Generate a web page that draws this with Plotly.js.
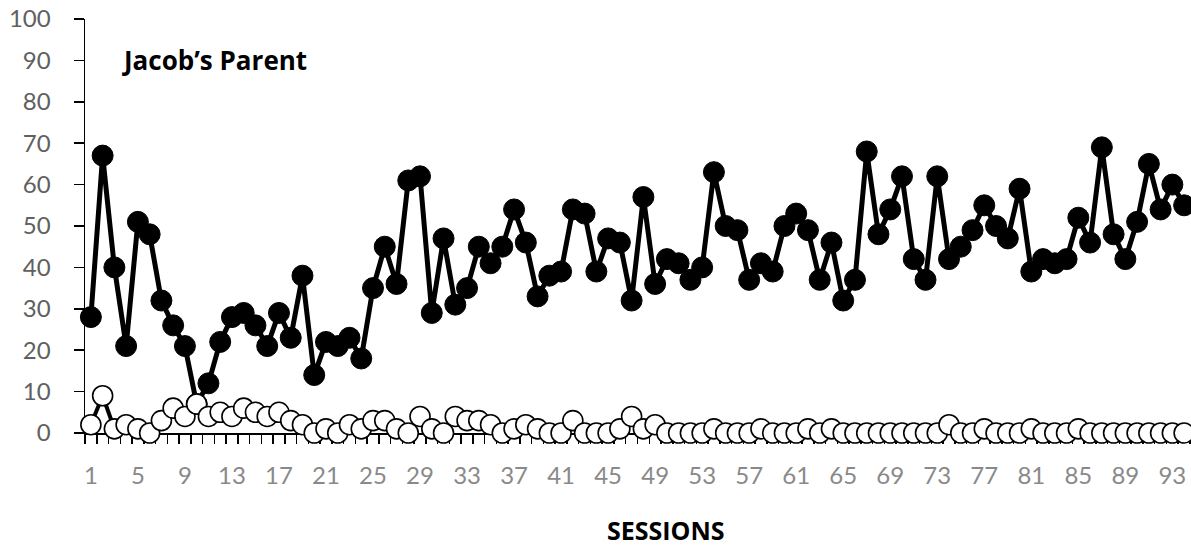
<!DOCTYPE html>
<html>
<head>
<meta charset="utf-8">
<script src="https://cdn.plot.ly/plotly-3.0.1.min.js"></script>
<style>html,body{margin:0;padding:0;background:#fff;}#chart{width:1191px;height:550px;}</style>
</head>
<body>
<div id="chart"></div>
<script>
const sessions = Array.from({length: 94}, (_, i) => i + 1);

const parentBlack = [
  28, 67, 40, 21, 51, 48, 32, 26, 21, 7,
  12, 22, 28, 29, 26, 21, 29, 23, 38, 14,
  22, 21, 23, 18, 35, 45, 36, 61, 62, 29,
  47, 31, 35, 45, 41, 45, 54, 46, 33, 38,
  39, 54, 53, 39, 47, 46, 32, 57, 36, 42,
  41, 37, 40, 63, 50, 49, 37, 41, 39, 50,
  53, 49, 37, 46, 32, 37, 68, 48, 54, 62,
  42, 37, 62, 42, 45, 49, 55, 50, 47, 59,
  39, 42, 41, 42, 52, 46, 69, 48, 42, 51,
  65, 54, 60, 55
];

const parentWhite = [
  2, 9, 1, 2, 1, 0, 3, 6, 4, 7,
  4, 5, 4, 6, 5, 4, 5, 3, 2, 0,
  1, 0, 2, 1, 3, 3, 1, 0, 4, 1,
  0, 4, 3, 3, 2, 0, 1, 2, 1, 0,
  0, 3, 0, 0, 0, 1, 4, 1, 2, 0,
  0, 0, 0, 1, 0, 0, 0, 1, 0, 0,
  0, 1, 0, 1, 0, 0, 0, 0, 0, 0,
  0, 0, 0, 2, 0, 0, 1, 0, 0, 0,
  1, 0, 0, 0, 1, 0, 0, 0, 0, 0,
  0, 0, 0, 0
];

const xTickVals = [1, 5, 9, 13, 17, 21, 25, 29, 33, 37, 41, 45, 49, 53, 57, 61, 65, 69, 73, 77, 81, 85, 89, 93];
const yTickVals = [0, 10, 20, 30, 40, 50, 60, 70, 80, 90, 100];

const traces = [
  {
    x: sessions, y: parentBlack, type: 'scatter', mode: 'lines+markers',
    line: {color: '#000', width: 5},
    marker: {symbol: 'circle', size: 21, color: '#000', line: {color: '#000', width: 1}},
    cliponaxis: false, hoverinfo: 'skip'
  },
  {
    x: sessions, y: parentWhite, type: 'scatter', mode: 'lines+markers',
    line: {color: '#000', width: 4},
    marker: {symbol: 'circle', size: 20, color: '#fff', line: {color: '#000', width: 1.6}},
    cliponaxis: false, hoverinfo: 'skip'
  }
];

const layout = {
  width: 1191, height: 550,
  margin: {l: 85, r: 1, t: 19, b: 117},
  paper_bgcolor: '#fff', plot_bgcolor: '#fff',
  showlegend: false,
  font: {family: 'Lato, "Open Sans", sans-serif'},
  xaxis: {
    range: [0.5, 94.5], tickmode: 'array', tickvals: xTickVals,
    ticktext: xTickVals.map(String),
    ticks: '', showgrid: false, zeroline: false,
    showline: true, linecolor: '#000', linewidth: 1.5, layer: 'below traces',
    tickfont: {family: 'Lato, sans-serif', size: 24, color: '#898989'},
    ticklabelstandoff: 21,
    minor: {tickmode: 'linear', tick0: 0.5, dtick: 1, ticks: 'outside', ticklen: 9, tickwidth: 1.5, tickcolor: '#000', showgrid: false}
  },
  yaxis: {
    range: [0, 100], tickmode: 'array', tickvals: yTickVals,
    ticks: 'outside', ticklen: 10, tickwidth: 1.5, tickcolor: '#000',
    showgrid: false, zeroline: false,
    showline: true, linecolor: '#000', linewidth: 1.5, layer: 'below traces',
    tickfont: {family: 'Lato, sans-serif', size: 24, color: '#606060'},
    ticklabelstandoff: 18
  },
  annotations: [
    {
      text: '<b>Jacob’s Parent</b>', xref: 'paper', yref: 'paper',
      x: 0.0317, y: 0.901, xanchor: 'left', yanchor: 'middle', showarrow: false,
      font: {family: '"Open Sans", sans-serif', size: 26, color: '#000'}
    },
    {
      text: '<b>SESSIONS</b>', xref: 'paper', yref: 'paper',
      x: 0.526, y: -0.281, xanchor: 'center', yanchor: 'bottom', showarrow: false,
      font: {family: '"Open Sans", sans-serif', size: 25, color: '#000'}
    }
  ]
};

Plotly.newPlot('chart', traces, layout, {displayModeBar: false, staticPlot: true});
</script>
</body>
</html>
